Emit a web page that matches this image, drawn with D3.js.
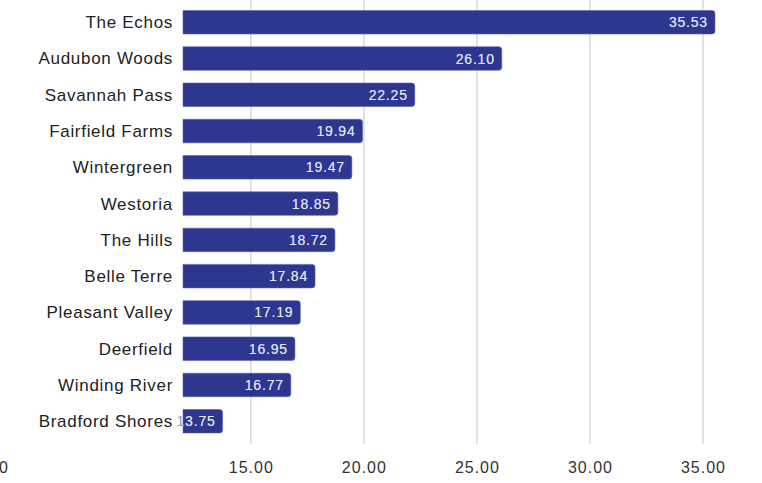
<!DOCTYPE html>
<meta charset="utf-8">
<style>
body { margin: 0; background: #fff; }
text { font-family: "Liberation Sans", Arial, sans-serif; }
.cat { font-size: 17px; fill: #222; text-anchor: end; letter-spacing: 0.7px; }
.tick-label { font-size: 16px; fill: #333; text-anchor: middle; letter-spacing: 1px; }
.val { font-size: 14px; text-anchor: end; letter-spacing: 0.8px; }
</style>
<body>
<svg width="762" height="483"></svg>
<script src="https://d3js.org/d3.v7.min.js"></script>
<script>

var names = ["The Echos", "Audubon Woods", "Savannah Pass", "Fairfield Farms", "Wintergreen", "Westoria",
             "The Hills", "Belle Terre", "Pleasant Valley", "Deerfield", "Winding River", "Bradford Shores"];
var values = [35.53, 26.10, 22.25, 19.94, 19.47, 18.85, 18.72, 17.84, 17.19, 16.95, 16.77, 13.75];
var ticks = [15, 20, 25, 30, 35];

var svg = d3.select("svg");

var x = d3.scaleLinear().domain([12, 35]).range([183, 703]);
var y = d3.scaleBand().domain(names).range([10.5, 433]).paddingInner(0.352).paddingOuter(0);

// grid
svg.selectAll(".grid")
  .data(ticks)
  .enter().append("line")
    .attr("x1", function(d) { return x(d); })
    .attr("x2", function(d) { return x(d); })
    .attr("y1", 0)
    .attr("y2", 444)
    .attr("stroke", "#d0d0d0")
    .attr("stroke-width", 1.2);

svg.selectAll(".tick-label")
  .data(ticks)
  .enter().append("text")
    .attr("class", "tick-label")
    .attr("x", function(d) { return x(d) + 0.5; })
    .attr("y", 473)
    .text(function(d) { return d.toFixed(2); });

// stray clipped label at the far left
svg.append("text")
  .attr("class", "tick-label")
  .attr("x", 4)
  .attr("y", 473)
  .text("0");

function barPath(d, i) {
  var x0 = x(12), x1 = x(d), y0 = y(names[i]), h = y.bandwidth(), r = 3;
  return "M" + x0 + "," + y0 +
    "H" + (x1 - r) +
    "Q" + x1 + "," + y0 + " " + x1 + "," + (y0 + r) +
    "V" + (y0 + h - r) +
    "Q" + x1 + "," + (y0 + h) + " " + (x1 - r) + "," + (y0 + h) +
    "H" + x0 + "Z";
}

var defs = svg.append("defs");
defs.selectAll("clipPath")
  .data(values)
  .enter().append("clipPath")
    .attr("id", function(d, i) { return "clip" + i; })
  .append("path")
    .attr("d", barPath);

var bar = svg.selectAll(".bar")
  .data(values)
  .enter().append("g")
    .attr("class", "bar");

bar.append("path")
    .attr("d", barPath)
    .attr("fill", "#2e3790")
    .attr("stroke", "#5a62a8")
    .attr("stroke-width", 0.6);

bar.append("text")
    .attr("class", "cat")
    .attr("x", 173)
    .attr("y", function(d, i) { return y(names[i]) + y.bandwidth() / 2; })
    .attr("dy", "0.35em")
    .text(function(d, i) { return names[i]; });

// value labels: light tint outside the bar, white inside
bar.append("text")
    .attr("class", "val")
    .attr("fill", "#8f93cc")
    .attr("x", function(d) { return x(d) - 7; })
    .attr("y", function(d, i) { return y(names[i]) + y.bandwidth() / 2; })
    .attr("dy", "0.36em")
    .text(function(d) { return d.toFixed(2); });

bar.append("text")
    .attr("class", "val")
    .attr("fill", "#e6e7f0")
    .attr("clip-path", function(d, i) { return "url(#clip" + i + ")"; })
    .attr("x", function(d) { return x(d) - 7; })
    .attr("y", function(d, i) { return y(names[i]) + y.bandwidth() / 2; })
    .attr("dy", "0.36em")
    .text(function(d) { return d.toFixed(2); });

</script>
</body>
